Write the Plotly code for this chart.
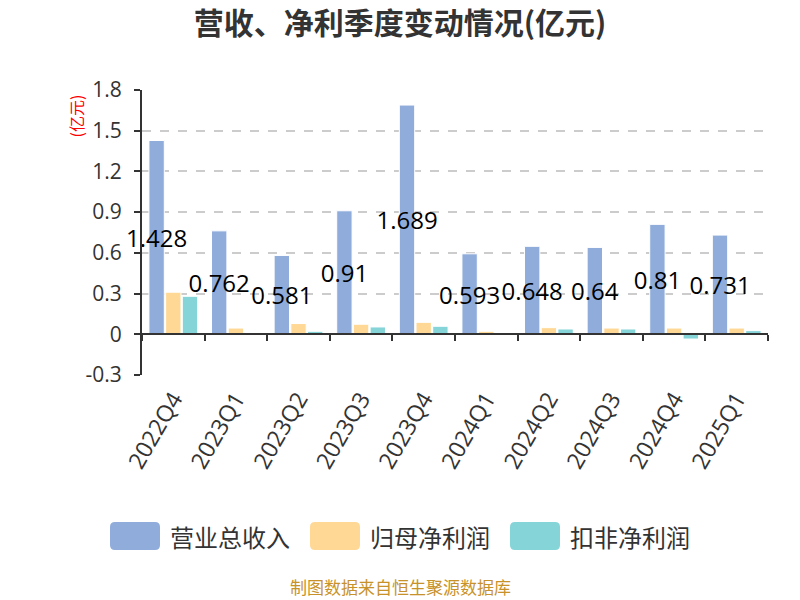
import plotly.graph_objects as go

categories = ["2022Q4", "2023Q1", "2023Q2", "2023Q3", "2023Q4",
              "2024Q1", "2024Q2", "2024Q3", "2024Q4", "2025Q1"]
revenue = [1.428, 0.762, 0.581, 0.91, 1.689, 0.593, 0.648, 0.64, 0.81, 0.731]
net_profit = [0.31, 0.046, 0.079, 0.074, 0.088, 0.022, 0.049, 0.046, 0.046, 0.046]
net_profit_ex = [0.28, 0.013, 0.022, 0.054, 0.059, 0.005, 0.039, 0.039, -0.035, 0.027]
series_names = ["营业总收入", "归母净利润", "扣非净利润"]
colors = ["#8FACDB", "#FFD896", "#85D4D8"]
y_ticks = [-0.3, 0, 0.3, 0.6, 0.9, 1.2, 1.5, 1.8]
y_tick_text = ["-0.3", "0", "0.3", "0.6", "0.9", "1.2", "1.5", "1.8"]

FONT = "Noto Sans CJK SC, Microsoft YaHei, sans-serif"
NUM_FONT = "Open Sans, Noto Sans CJK SC, sans-serif"
L, R, T, B = 142, 768, 90, 375
Y_MIN, Y_MAX = -0.3, 1.8


def px(x, y):
    return (x - L) / (R - L), (B - y) / (B - T)


def rounded_rect(x0, y0, x1, y1, r):
    def p(x, y):
        a, b = px(x, y)
        return f"{a:.5f},{b:.5f}"
    return (f"M {p(x0 + r, y0)} L {p(x1 - r, y0)} Q {p(x1, y0)} {p(x1, y0 + r)} "
            f"L {p(x1, y1 - r)} Q {p(x1, y1)} {p(x1 - r, y1)} "
            f"L {p(x0 + r, y1)} Q {p(x0, y1)} {p(x0, y1 - r)} "
            f"L {p(x0, y0 + r)} Q {p(x0, y0)} {p(x0 + r, y0)} Z")


fig = go.Figure()
fig.add_trace(go.Bar(
    x=categories, y=revenue, name=series_names[0],
    marker=dict(color=colors[0], line=dict(color="white", width=1)),
    text=[str(v) for v in revenue], textposition="inside",
    insidetextanchor="middle", constraintext="none", textangle=0,
    textfont=dict(size=24, color="#000000", family=NUM_FONT),
    showlegend=False, cliponaxis=False))
fig.add_trace(go.Bar(
    x=categories, y=net_profit, name=series_names[1],
    marker=dict(color=colors[1], line=dict(color="white", width=1)),
    showlegend=False))
fig.add_trace(go.Bar(
    x=categories, y=net_profit_ex, name=series_names[2],
    marker=dict(color=colors[2], line=dict(color="white", width=1)),
    showlegend=False))
# helper trace for the axis drawn along y = 0
fig.add_trace(go.Scatter(
    x=categories, y=[0] * len(categories), xaxis="x2", mode="markers",
    marker=dict(opacity=0), hoverinfo="skip", showlegend=False))

zero_pos = (0 - Y_MIN) / (Y_MAX - Y_MIN)

fig.update_layout(
    width=800, height=600,
    paper_bgcolor="white", plot_bgcolor="white",
    margin=dict(l=L, r=800 - R, t=T, b=600 - B),
    font=dict(family=FONT, color="#333333"),
    barmode="group", bargap=0.2, bargroupgap=0.08,
    title=dict(text="<b>营收、净利季度变动情况(亿元)</b>", x=0.5, xanchor="center",
               y=1 - 23 / 600, yanchor="middle", yref="container",
               font=dict(size=30, color="#333333", family=FONT)),
    xaxis=dict(type="category", range=[-0.5, len(categories) - 0.5],
               showline=False, ticks="", showgrid=False, zeroline=False,
               tickangle=-60, tickfont=dict(size=23, color="#333333", family=NUM_FONT),
               ticklabelstandoff=5),
    xaxis2=dict(type="category", overlaying="x", matches="x", anchor="free",
                position=zero_pos, side="bottom",
                range=[-0.5, len(categories) - 0.5],
                showline=True, linecolor="#333333", linewidth=2,
                ticks="outside", tickson="boundaries", ticklen=6, tickwidth=2,
                tickcolor="#333333", showticklabels=False, showgrid=False,
                zeroline=False),
    yaxis=dict(range=[Y_MIN, Y_MAX], tickvals=y_ticks, ticktext=y_tick_text,
               showline=True, linecolor="#333333", linewidth=2,
               ticks="outside", ticklen=6, tickwidth=2, tickcolor="#333333",
               showgrid=True, gridcolor="#CCCCCC", griddash="dash", gridwidth=1.5,
               zeroline=False, ticklabelstandoff=8,
               tickfont=dict(size=21, color="#333333", family=NUM_FONT)),
)

# y-axis unit label
fig.add_annotation(text="(亿元)", xref="paper", yref="paper",
                   x=px(75, 0)[0], y=px(0, 93)[1], xanchor="center", yanchor="top",
                   textangle=-90, showarrow=False,
                   font=dict(size=16, color="#FF0000", family=FONT))

# manual legend
legend_icons = [(110, 160), (310, 360), (510, 560)]
shapes = []
for (x0, x1), name, col in zip(legend_icons, series_names, colors):
    shapes.append(dict(type="path", xref="paper", yref="paper",
                       path=rounded_rect(x0, 522, x1, 550, 5),
                       fillcolor=col, line=dict(width=0)))
    tx, ty = px(x1 + 8, 536)
    fig.add_annotation(text=name, xref="paper", yref="paper", x=tx, y=ty,
                       xanchor="left", yanchor="middle", showarrow=False,
                       font=dict(size=24, color="#333333", family=FONT))
fig.update_layout(shapes=shapes)

# source note
sx, sy = px(400, 586)
fig.add_annotation(text="制图数据来自恒生聚源数据库", xref="paper", yref="paper",
                   x=sx, y=sy, xanchor="center", yanchor="middle", showarrow=False,
                   font=dict(size=17, color="#C8922A", family=FONT))

fig.write_html("out.html", config={"displayModeBar": False},
               post_script="document.body.style.margin='0';")
